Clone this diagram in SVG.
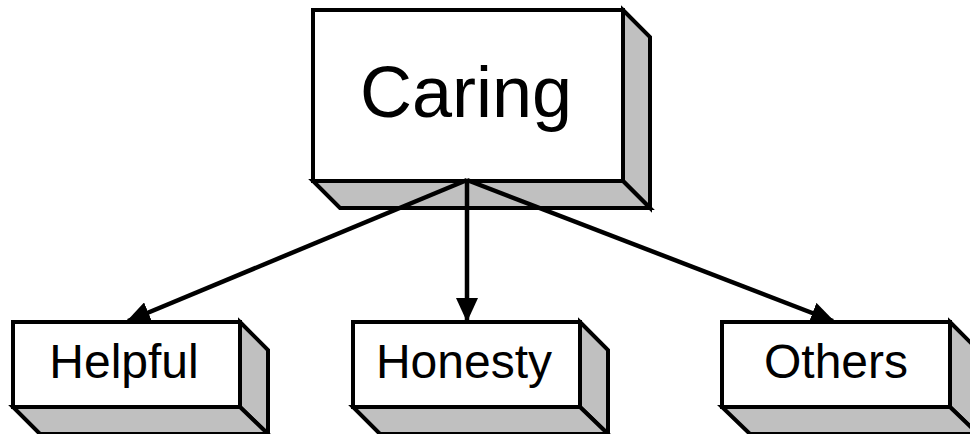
<svg xmlns="http://www.w3.org/2000/svg" width="970" height="434" viewBox="0 0 970 434">
<style>
.front{fill:#fff;stroke:#000;stroke-width:4;stroke-linejoin:miter}
.side{fill:#c0c0c0;stroke:#000;stroke-width:4;stroke-linejoin:miter}
.lbl{font-family:"Liberation Sans",Arial,sans-serif;fill:#000;text-anchor:middle}
.conn{stroke:#000;stroke-width:4.5;fill:none}
</style>
<defs>
<marker id="ah" markerUnits="userSpaceOnUse" markerWidth="24" markerHeight="22" refX="22" refY="11" orient="auto">
<path d="M0,0 L24,11 L0,22 Z" fill="#000"/>
</marker>
</defs>
<rect width="970" height="434" fill="#fff"/>
<g id="caring">
<polygon class="side" points="623,10 650,37 650,208 623,181"/>
<polygon class="side" points="313,181 623,181 650,208 340,208"/>
<rect class="front" x="313" y="10" width="310" height="171"/>
<text class="lbl" x="466" y="117" font-size="72">Caring</text>
</g>
<g id="helpful">
<polygon class="side" points="240,322 268,350 268,434 240,407"/>
<polygon class="side" points="13,407 240,407 268,434 40,434"/>
<rect class="front" x="13" y="322" width="227" height="85"/>
<text class="lbl" x="124" y="378" font-size="48">Helpful</text>
</g>
<g id="honesty">
<polygon class="side" points="580,322 608,350 608,434 580,407"/>
<polygon class="side" points="353,407 580,407 608,434 380,434"/>
<rect class="front" x="353" y="322" width="227" height="85"/>
<text class="lbl" x="464" y="378" font-size="48">Honesty</text>
</g>
<g id="others">
<polygon class="side" points="950,322 978,350 978,434 950,407"/>
<polygon class="side" points="722,407 950,407 978,434 750,434"/>
<rect class="front" x="722" y="322" width="228" height="85"/>
<text class="lbl" x="836" y="378" font-size="48">Others</text>
</g>
<g id="connectors">
<line class="conn" x1="467" y1="180" x2="128" y2="321" marker-end="url(#ah)"/>
<line class="conn" x1="467" y1="180" x2="467" y2="320" marker-end="url(#ah)"/>
<line class="conn" x1="467" y1="180" x2="833" y2="321" marker-end="url(#ah)"/>
</g>
</svg>
